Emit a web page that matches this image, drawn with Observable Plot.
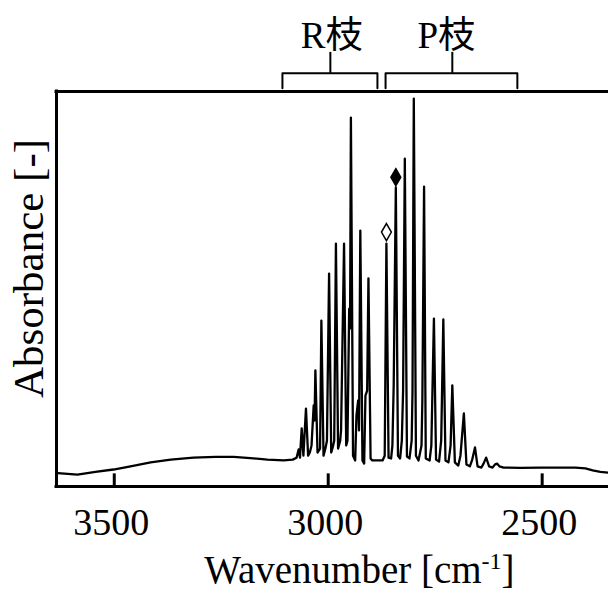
<!DOCTYPE html>
<html><head><meta charset="utf-8">
<script src="https://cdn.jsdelivr.net/npm/d3@7"></script>
<script src="https://cdn.jsdelivr.net/npm/@observablehq/plot@0.6"></script>
<style>
body{margin:0;background:#fff}
</style>
</head><body><div id="chart"></div>
<script>
// Spectrum vertices: [wavenumber (cm^-1), absorbance (arb.)]
const spectrum = [
  [3632,0.034],[3586,0.030],[3544,0.037],[3502,0.043],[3462,0.051],[3415,0.061],[3368,0.068],
  [3315,0.073],[3263,0.075],[3221,0.075],[3182,0.072],[3142,0.068],[3104,0.066],[3083,0.068],[3074,0.073],
  [3069,0.094],[3066,0.073],[3062,0.147],[3058,0.078],[3052,0.197],[3047,0.078],[3043,0.086],[3039,0.104],
  [3034,0.205],[3032,0.167],[3030,0.294],[3025,0.086],[3019,0.096],[3016,0.420],[3011,0.078],[3006,0.099],
  [3003,0.116],[2998,0.539],[2993,0.086],[2989,0.101],[2986,0.116],[2982,0.615],[2977,0.096],[2972,0.116],
  [2970,0.142],[2963,0.615],[2958,0.104],[2955,0.116],[2951,0.450],[2949,0.400],[2947,0.934],[2942,0.078],
  [2937,0.066],[2934,0.180],[2930,0.218],[2928,0.142],[2925,0.648],[2920,0.066],[2916,0.058],[2913,0.230],
  [2909,0.243],[2906,0.527],[2901,0.071],[2897,0.066],
  [2873,0.066],[2868,0.078],[2864,0.615],[2859,0.073],[2853,0.071],[2850,0.104],[2847,0.256],[2842,0.757],
  [2837,0.078],[2832,0.071],[2828,0.116],[2825,0.243],[2821,0.830],[2816,0.076],[2810,0.071],[2805,0.116],
  [2803,0.243],[2800,0.982],[2795,0.078],[2789,0.066],[2782,0.104],[2780,0.218],[2776,0.759],[2772,0.071],
  [2763,0.066],[2759,0.104],[2753,0.425],[2748,0.068],[2741,0.063],[2736,0.116],[2731,0.423],[2726,0.066],
  [2719,0.061],[2714,0.104],[2710,0.256],[2704,0.061],[2696,0.053],[2691,0.078],[2683,0.185],[2677,0.056],
  [2669,0.051],[2664,0.066],[2657,0.099],[2651,0.051],[2642,0.048],[2637,0.058],[2631,0.073],[2624,0.051],
  [2616,0.048],[2610,0.056],[2605,0.058],[2600,0.051],[2590,0.048],[2551,0.047],[2504,0.048],[2457,0.048],
  [2422,0.048],[2399,0.046],[2382,0.041],[2364,0.037],[2345,0.035]
];
const xTicks = [3500, 3000, 2500];
// marked lines
const markerWavenumber = [2864, 2842];
const markerAbsorbance = [0.644, 0.783];
const markerFilled = [false, true];
// branch annotations
const branchNames = ["R枝", "P枝"];
const branchFrom = [3107, 2866];
const branchTo = [2885, 2558];
const branchMid = [2995, 2710];
const branchLabelX = [2992, 2724];
const yTitle = "Absorbance [-]";
const xTitleMain = "Wavenumber [cm";
const xTitleSup = "-1";
const xTitleEnd = "]";

const xDomain = [3635, 2345];
const markers = markerWavenumber.map((w, i) => ({w, a: markerAbsorbance[i], filled: markerFilled[i]}));
const braces = branchNames.flatMap((name, i) => [
  {name, w: branchFrom[i], a: 1.008}, {name, w: branchFrom[i], a: 1.046},
  {name, w: branchTo[i], a: 1.046}, {name, w: branchTo[i], a: 1.008}
]);
const serifFont = "'Liberation Serif', serif";
const cjkFont = "'Liberation Serif', 'Noto Sans CJK JP', serif";

const chart = Plot.plot({
  width: 608, height: 595,
  marginLeft: 56, marginRight: 0, marginTop: 91, marginBottom: 109,
  style: {fontFamily: serifFont, fontSize: "38px", background: "white", color: "black", overflow: "visible"},
  x: {domain: xDomain},
  y: {domain: [0, 1], axis: null},
  marks: [
    Plot.line(spectrum, {x: d => d[0], y: d => d[1], stroke: "black", strokeWidth: 2.3, strokeLinejoin: "round"}),
    Plot.ruleY([0, 1], {stroke: "black", strokeWidth: 3, strokeLinecap: "square"}),
    Plot.ruleX([xDomain[0]], {y1: 0, y2: 1, stroke: "black", strokeWidth: 3, strokeLinecap: "square"}),
    Plot.ruleX(xTicks, {x: d => d, y1: 0, y2: 0.032, stroke: "black", strokeWidth: 3}),
    Plot.axisX({ticks: xTicks, tickSize: 0, tickPadding: 22, label: null, fontSize: 38, dx: -3, tickFormat: d => String(d)}),
    Plot.dot(markers, {x: "w", y: "a", symbol: "diamond", r: 5.2, fill: d => d.filled ? "black" : "white", stroke: "black", strokeWidth: 1.5}),
    Plot.line(braces, {x: "w", y: "a", z: "name", stroke: "black", strokeWidth: 2, strokeLinejoin: "round"}),
    Plot.ruleX(branchMid, {x: d => d, y1: 1.046, y2: 1.099, stroke: "black", strokeWidth: 2}),
    Plot.text(branchNames, {x: (d, i) => branchLabelX[i], y: 1.111, text: d => d, lineAnchor: "bottom", fontSize: 37}),
    Plot.text([yTitle], {x: 3667, y: 0.552, text: d => d, rotate: -90, lineAnchor: "bottom", fontSize: 43}),
    Plot.text([xTitleMain + xTitleSup + xTitleEnd], {x: 2927, y: 0, dy: 96, text: d => d, lineAnchor: "bottom", fontSize: 39})
  ]
});
document.getElementById("chart").appendChild(chart);

// fonts: set directly on every text element (CJK fallback only for branch labels)
for (const t of chart.querySelectorAll("text")) {
  t.style.fontFamily = branchNames.includes(t.textContent) ? cjkFont : serifFont;
}

// superscript for the unit
const ns = "http://www.w3.org/2000/svg";
for (const t of chart.querySelectorAll("text")) {
  if (t.textContent === xTitleMain + xTitleSup + xTitleEnd) {
    t.textContent = "";
    t.appendChild(document.createTextNode(xTitleMain));
    const sup = document.createElementNS(ns, "tspan");
    sup.setAttribute("font-size", "24");
    sup.setAttribute("dy", "-14");
    sup.textContent = xTitleSup;
    t.appendChild(sup);
    const close = document.createElementNS(ns, "tspan");
    close.setAttribute("dy", "14");
    close.textContent = xTitleEnd;
    t.appendChild(close);
  }
}
</script></body></html>
